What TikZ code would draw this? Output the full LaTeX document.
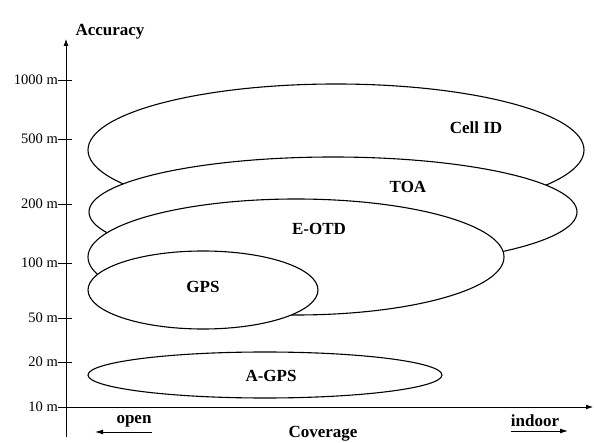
\documentclass[tikz,border=0pt]{standalone}
\usepackage{fontspec}
\setmainfont{Liberation Serif}
\usetikzlibrary{arrows.meta}
\begin{document}
\begin{tikzpicture}[x=1pt,y=-1pt,
  ell/.style={draw=black,fill=white,line width=1.1pt},
  axis/.style={line width=0.8pt,-{Latex[length=7pt,width=5pt]}},
  dir/.style={line width=0.9pt,-{Latex[length=8pt,width=5pt]}},
  tick/.style={line width=0.8pt},
  ticklab/.style={anchor=east,inner sep=0pt,font=\fontsize{14.5}{16}\selectfont},
  lab/.style={font=\fontsize{17}{19}\selectfont\bfseries,inner sep=0pt}]
\useasboundingbox (0,0) rectangle (594,443);
% axes
\coordinate (yb) at (66,437);
\coordinate (yt) at (66,39);
\coordinate (xl) at (60,407);
\coordinate (xr) at (593,407);
\draw[axis] (yb) -- (yt);
\draw[axis] (xl) -- (xr);
% ticks
\foreach \y/\t/\n in {80/1000 m/a,139/500 m/b,204/200 m/c,263/100 m/d,318/50 m/e,362/20 m/f,407/10 m/g}{
  \coordinate (t\n) at (72,\y);
  \node[ticklab] (l\n) at (58,\y) {\t};
  \draw[tick] (l\n.east) -- (t\n);
}
% ellipses
\draw[ell] (336,150) ellipse [x radius=248, y radius=66];
\draw[ell] (333,212) ellipse [x radius=244, y radius=55];
\draw[ell] (296,257) ellipse [x radius=208, y radius=58];
\draw[ell] (203,290) ellipse [x radius=115, y radius=39];
\draw[ell] (265,375) ellipse [x radius=177, y radius=23];
% labels
\node[lab] (cell) at (476,128) {Cell ID};
\node[lab] (toa) at (408,187) {TOA};
\node[lab] (eotd) at (319,229) {E-OTD};
\node[lab] (gps) at (203,287) {GPS};
\node[lab] (agps) at (271,376) {A-GPS};
\node[lab] (acc) at (110,32) {Accuracy};
\node[lab] (cov) at (323,434) {Coverage};
\node[lab] (open) at (134,421) {open};
\node[lab] (indoor) at (535,421) {indoor};
\coordinate (oa) at (152,432);
\coordinate (ob) at (95,432);
\coordinate (ia) at (511,431);
\coordinate (ib) at (568,431);
\draw[dir] (oa) -- (ob);
\draw[dir] (ia) -- (ib);
\end{tikzpicture}
\end{document}
